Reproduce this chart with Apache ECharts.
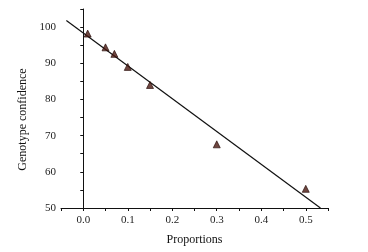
<!DOCTYPE html>
<html>
<head>
<meta charset="utf-8">
<script src="https://cdn.jsdelivr.net/npm/echarts@6/dist/echarts.min.js"></script>
<style>
  html, body { margin: 0; padding: 0; background: #fff; }
  #chart { width: 368px; height: 252px; }
</style>
</head>
<body>
<div id="chart"></div>
<script>
// measured points (proportion, confidence)
var proportions = [0.01, 0.05, 0.07, 0.10, 0.15, 0.30, 0.50];
var confidence = [98.2, 94.4, 92.6, 89.0, 84.0, 67.6, 55.3];
// fitted line end points
var fitX = [-0.038, 0.533];
var fitY = [101.8, 50];
// tick labels
var xLabels = [0, 0.1, 0.2, 0.3, 0.4, 0.5];
var yLabels = [50, 60, 70, 80, 90, 100];

var font = 'Liberation Serif';
var chart = echarts.init(document.getElementById('chart'));

var points = proportions.map(function (p, i) { return [p, confidence[i]]; });
var fit = fitX.map(function (x, i) { return [x, fitY[i]]; });

chart.setOption({
  animation: false,
  grid: { left: 61, top: 9, right: 40, bottom: 44 },
  xAxis: {
    type: 'value',
    min: -0.05,
    max: 0.55,
    interval: 0.05,
    name: 'Proportions',
    nameLocation: 'middle',
    nameGap: 26,
    nameTextStyle: { fontFamily: font, fontSize: 12, color: '#111' },
    axisLine: { lineStyle: { color: '#111', width: 1 } },
    axisTick: { inside: false, length: 3, lineStyle: { color: '#111' } },
    axisLabel: {
      customValues: xLabels,
      margin: 7,
      fontFamily: font,
      fontSize: 11,
      color: '#222',
      formatter: function (v) { return v.toFixed(1); }
    },
    splitLine: { show: false }
  },
  yAxis: {
    type: 'value',
    min: 50,
    max: 105,
    interval: 5,
    name: 'Genotype confidence',
    nameLocation: 'middle',
    nameGap: 27,
    nameTextStyle: { fontFamily: font, fontSize: 12, color: '#111', padding: [0, 0, 0, -22] },
    axisLine: { show: true, lineStyle: { color: '#111', width: 1 } },
    axisTick: { inside: false, length: 3, lineStyle: { color: '#111' } },
    axisLabel: {
      customValues: yLabels,
      margin: 5,
      fontFamily: font,
      fontSize: 11,
      color: '#222'
    },
    splitLine: { show: false }
  },
  series: [
    {
      type: 'line',
      data: fit,
      showSymbol: false,
      lineStyle: { color: '#111', width: 1.2 },
      z: 2
    },
    {
      type: 'scatter',
      data: points,
      symbol: 'triangle',
      symbolSize: 7,
      itemStyle: { color: '#4a1810', borderColor: '#220804', borderWidth: 0.8 },
      z: 3
    }
  ]
});
</script>
</body>
</html>
